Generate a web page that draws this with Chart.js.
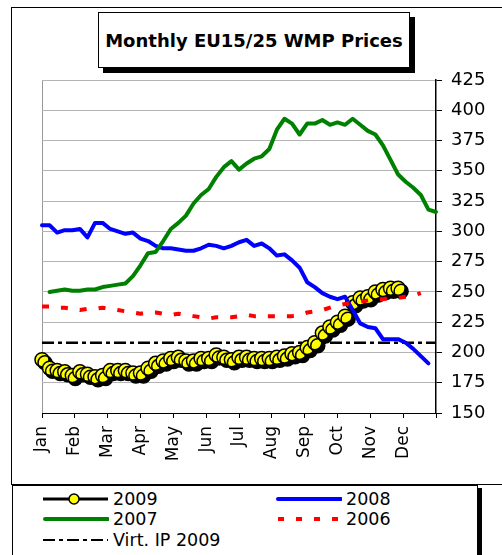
<!DOCTYPE html>
<html>
<head>
<meta charset="utf-8">
<script src="https://cdn.jsdelivr.net/npm/chart.js@4"></script>
<style>
  html, body { margin: 0; padding: 0; background: #fff; }
  body { width: 502px; height: 555px; overflow: hidden; position: relative;
         font-family: "Comic Sans MS", "DejaVu Sans", sans-serif; color: #000; }
  .frame { position: absolute; left: 11px; top: 7px; width: 500px; height: 478px; border: 1px solid #000; box-sizing: border-box; }
  .title { position: absolute; left: 98px; top: 12px; width: 312px; height: 56px; border: 1px solid #000;
           box-sizing: border-box; background: #fff; box-shadow: 5px 5px 0 #000;
           font-weight: bold; font-size: 18px; display: flex; align-items: center; justify-content: center; }
  .legend { position: absolute; left: 12px; top: 485px; width: 466px; height: 100px; border: 1px solid #000;
            box-sizing: border-box; background: #fff; box-shadow: 4px 3px 0 #000; }
  .item { position: absolute; display: flex; align-items: center; font-size: 17.5px; height: 20px; }
  .item svg { margin-right: 4px; }
  canvas { position: absolute; left: 0; top: 0; }
</style>
</head>
<body>
<div class="frame"></div>
<div class="title">Monthly EU15/25 WMP Prices</div>
<div class="legend" id="legend"></div>
<canvas id="wmpChart" width="502" height="555"></canvas>
<script>
'use strict';

// ── Data (weekly prices, EUR/100kg) ──────────────────────────────
const MONTHS = ['Jan', 'Feb', 'Mar', 'Apr', 'May', 'Jun', 'Jul', 'Aug', 'Sep', 'Oct', 'Nov', 'Dec'];
const Y_TICKS = [150, 175, 200, 225, 250, 275, 300, 325, 350, 375, 400, 425];
const WEEKS_IN_YEAR = 52;

const P2009 = [194, 187, 185, 184, 181, 184, 182, 180, 181, 185, 185, 185, 183, 183, 187, 191,
  193, 195, 196, 193, 193, 195, 195, 198, 196, 194, 196, 196, 195, 195, 195, 196,
  197, 199, 200, 204, 208, 216, 221, 225, 230, 241, 245, 246, 250, 252, 253, 253];
const P2008 = [305, 305, 299, 301, 301, 302, 295, 307, 307, 302, 300, 298, 299, 294, 292, 288,
  286, 286, 285, 284, 284, 286, 289, 288, 286, 288, 291, 293, 288, 290, 286, 280,
  281, 276, 270, 258, 254, 249, 246, 244, 246, 235, 224, 221, 220, 211, 211, 211,
  208, 203, 197, 191];
const P2007_FIRST_WEEK = 1;
const P2007 = [250, 251, 252, 251, 251, 252, 252, 254, 255, 256, 257, 263, 272, 282, 283, 292,
  302, 307, 313, 323, 330, 335, 345, 353, 358, 351, 356, 360, 362, 368, 384, 393,
  389, 380, 389, 389, 392, 388, 390, 388, 393, 388, 383, 380, 371, 359, 347, 341,
  336, 330, 318, 316];
const P2006 = [238, 238, 237, 237, 236, 235, 236, 236, 237, 236, 235, 234, 233, 232, 233, 233,
  232, 231, 232, 231, 230, 229, 228, 229, 229, 229, 230, 231, 230, 230, 230, 230,
  230, 230, 231, 233, 234, 235, 237, 239, 240, 241, 242, 243, 244, 244, 245, 245,
  246, 247, 249];
const VIRT_IP_2009 = 208;

const FONT = '"Comic Sans MS", "DejaVu Sans", sans-serif';

function weekly(values, firstWeek = 0) {
  return values.map((v, i) => ({ x: firstWeek + i, y: v }));
}

// ── Legend (HTML) ────────────────────────────────────────────────
const LEGEND = [
  { label: '2009', left: 42, top: 488, svg: '<line x1="0" y1="6" x2="65" y2="6" stroke="#000" stroke-width="3"/><circle cx="31" cy="6" r="5" fill="#ff0" stroke="#000" stroke-width="1.5"/>' },
  { label: '2008', left: 275, top: 488, svg: '<line x1="2" y1="6" x2="65" y2="6" stroke="#00f" stroke-width="4" stroke-linecap="round"/>' },
  { label: '2007', left: 42, top: 508, svg: '<line x1="2" y1="6" x2="65" y2="6" stroke="#008000" stroke-width="4" stroke-linecap="round"/>' },
  { label: '2006', left: 275, top: 508, svg: '<line x1="2" y1="6" x2="66" y2="6" stroke="#f00" stroke-width="4" stroke-dasharray="6 12"/>' },
  { label: 'Virt. IP 2009', left: 42, top: 529, svg: '<line x1="0" y1="6" x2="65" y2="6" stroke="#000" stroke-width="2" stroke-dasharray="12 4 4 4"/>' },
];
document.getElementById('legend').innerHTML = LEGEND.map(l =>
  `<div class="item" style="left:${l.left - 12}px;top:${l.top - 485}px">
     <svg width="66" height="12">${l.svg}</svg><span>${l.label}</span></div>`).join('');

// ── Shadow for the 2009 markers ─────────────────────────────────
const markerShadow = {
  id: 'markerShadow',
  beforeDatasetDraw(chart, args) {
    if (args.meta._dataset.label !== '2009') return;
    const ctx = chart.ctx;
    ctx.save();
    ctx.shadowColor = '#000';
    ctx.shadowOffsetX = 3;
    ctx.shadowOffsetY = 3;
    ctx.shadowBlur = 0;
  },
  afterDatasetDraw(chart, args) {
    if (args.meta._dataset.label !== '2009') return;
    chart.ctx.restore();
  },
};

// ── Chart ────────────────────────────────────────────────────────
const monthTicks = MONTHS.map((_, i) => i * WEEKS_IN_YEAR / 12).concat([WEEKS_IN_YEAR]);

new Chart(document.getElementById('wmpChart').getContext('2d'), {
  type: 'line',
  data: {
    datasets: [
      { label: '2006', data: weekly(P2006), borderColor: '#ff0000', borderWidth: 4, borderDash: [7, 12],
        borderCapStyle: 'butt', pointRadius: 0, order: 1 },
      { label: '2007', data: weekly(P2007, P2007_FIRST_WEEK), borderColor: '#008000', borderWidth: 4,
        pointRadius: 0, order: 2 },
      { label: '2008', data: weekly(P2008), borderColor: '#0000ff', borderWidth: 4,
        pointRadius: 0, order: 3 },
      { label: '2009', data: weekly(P2009), borderColor: '#000', borderWidth: 2,
        pointRadius: 7, pointBackgroundColor: '#ffff00', pointBorderColor: '#000', pointBorderWidth: 1.5,
        order: 4 },
      { label: 'Virt. IP 2009', data: [{ x: 0, y: VIRT_IP_2009 }, { x: WEEKS_IN_YEAR, y: VIRT_IP_2009 }],
        borderColor: '#000', borderWidth: 2.5, borderDash: [12, 4, 4, 4], borderCapStyle: 'butt',
        pointRadius: 0, order: 5 },
    ],
  },
  options: {
    responsive: false,
    animation: false,
    events: [],
    layout: { padding: { left: 42, top: 80, right: 6, bottom: 82 } },
    elements: {
      line: { tension: 0, fill: false, borderCapStyle: 'round', borderJoinStyle: 'round' },
    },
    datasets: { line: { clip: false } },
    scales: {
      x: {
        type: 'linear', min: 0, max: WEEKS_IN_YEAR,
        afterBuildTicks: s => { s.ticks = monthTicks.map(v => ({ value: v })); },
        afterFit: s => { s.height = 60; },
        ticks: {
          autoSkip: false, minRotation: 90, maxRotation: 90, padding: 8,
          color: '#000', font: { family: FONT, size: 17 },
          callback: (v, i) => MONTHS[i] || '',
        },
        grid: { color: c => c.index === 0 ? '#999' : 'transparent', tickColor: '#000', tickLength: 5 },
        border: { color: '#000', width: 1 },
      },
      y: {
        position: 'right', min: 150, max: 425,
        afterBuildTicks: s => { s.ticks = Y_TICKS.map(v => ({ value: v })); },
        afterFit: s => { s.width = 60; },
        ticks: { color: '#000', padding: 9, font: { family: FONT, size: 18 } },
        grid: { color: '#b4b4b4', tickColor: '#000', tickLength: 6 },
        border: { color: '#000', width: 1.5 },
      },
    },
    plugins: { legend: { display: false }, tooltip: { enabled: false } },
  },
  plugins: [markerShadow],
});
</script>
</body>
</html>
